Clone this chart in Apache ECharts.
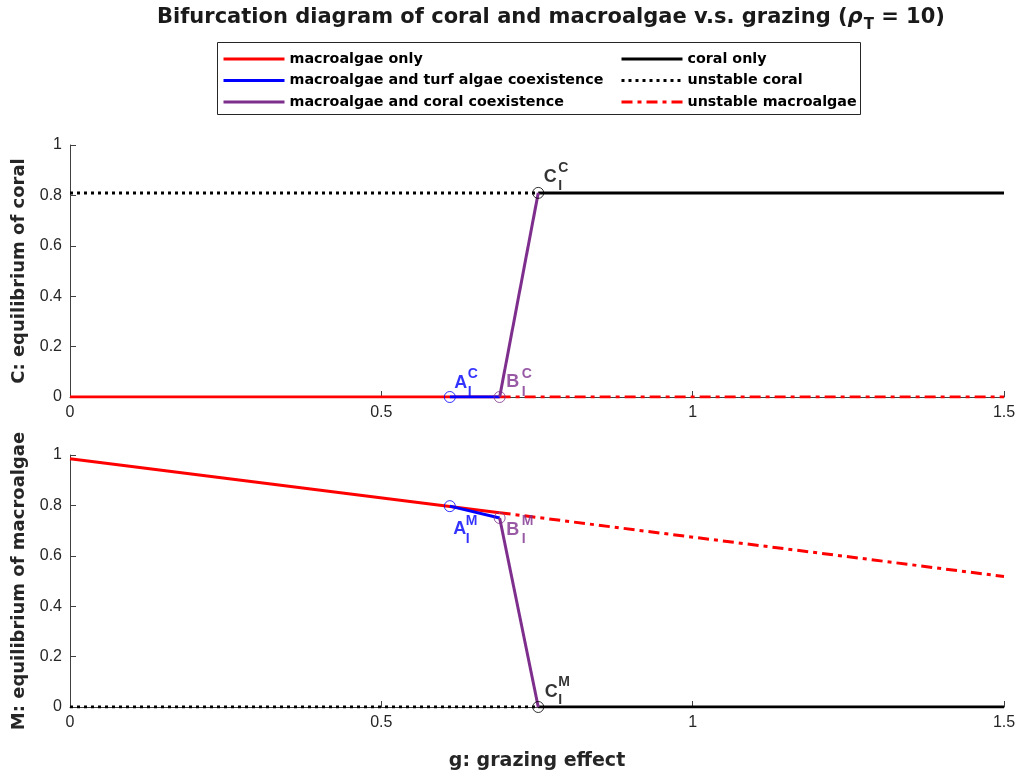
<!DOCTYPE html>
<html><head><meta charset="utf-8">
<script src="https://cdn.jsdelivr.net/npm/echarts@6/dist/echarts.min.js"></script>
<style>html,body{margin:0;padding:0;background:#fff}#c{width:1021px;height:780px}</style>
</head><body><div id="c"></div>
<script>
// ---- data ----
const gA = 0.61, gB = 0.69, gC = 0.752, gMax = 1.5;
const coralStar = 0.81;
const macroAt0 = 0.985, macroAtA = 0.797, macroAtB = 0.771, macroAtMax = 0.518, blueAtB = 0.75;
const xTicks = ['0', '0.5', '1', '1.5'];
const yTicks = ['0', '0.2', '0.4', '0.6', '0.8', '1'];

// top panel (coral C)
const topMacroOnly = [[0, 0], [gB, 0]];
const topTurf = [[gA, 0], [gB, 0]];
const topCoex = [[gB, 0], [gC, coralStar]];
const topCoralOnly = [[gC, coralStar], [gMax, coralStar]];
const topUnstableCoral = [[0, coralStar], [gC, coralStar]];
const topUnstableMacro = [[gB, 0], [gMax, 0]];
// bottom panel (macroalgae M)
const botMacroOnly = [[0, macroAt0], [gB, macroAtB]];
const botTurf = [[gA, macroAtA], [gB, blueAtB]];
const botCoex = [[gB, blueAtB], [gC, 0]];
const botCoralOnly = [[gC, 0], [gMax, 0]];
const botUnstableCoral = [[0, 0], [gC, 0]];
const botUnstableMacro = [[gB, macroAtB], [gMax, macroAtMax]];

const ptsTop = [[gA, 0], [gB, 0], [gC, coralStar]];
const ptsBot = [[gA, macroAtA], [gB, blueAtB], [gC, 0]];
const letters = ['A', 'B', 'C'];
const supTop = 'C', supBot = 'M';

// ---- styles ----
const RED = '#ff0000', BLUE = '#0000ff', PURPLE = '#7e2f8e', BLACK = '#000000';
const ptColors = [BLUE, PURPLE, BLACK];
const FONT = 'Liberation Sans, Arial, sans-serif';
const BFONT = 'DejaVu Sans, sans-serif';

const names = {
  mo: 'macroalgae only', tu: 'macroalgae and turf algae coexistence', co: 'macroalgae and coral coexistence',
  cr: 'coral only', uc: 'unstable coral', um: 'unstable macroalgae'
};
function line(name, data, idx, color, type, z) {
  return { name, type: 'line', data, xAxisIndex: idx, yAxisIndex: idx, symbol: 'none', z: z || 2,
    lineStyle: { color, width: 3, type: type || 'solid' }, itemStyle: { color }, animation: false };
}
const dotted = [3, 4];
const dashdot = [11, 5, 4, 5];

const series = [];
[[topMacroOnly, topTurf, topCoex, topCoralOnly, topUnstableCoral, topUnstableMacro, 0],
 [botMacroOnly, botTurf, botCoex, botCoralOnly, botUnstableCoral, botUnstableMacro, 1]].forEach(p => {
  const i = p[6];
  series.push(line(names.mo, p[0], i, RED, 'solid', 2));
  series.push(line(names.tu, p[1], i, BLUE, 'solid', 3));
  series.push(line(names.co, p[2], i, PURPLE, 'solid', 3));
  series.push(line(names.cr, p[3], i, BLACK, 'solid', 2));
  series.push(line(names.uc, p[4], i, BLACK, dotted, 2));
  series.push(line(names.um, p[5], i, RED, dashdot, 2));
});

// circles
[[ptsTop, 0], [ptsBot, 1]].forEach(([pts, i]) => {
  series.push({ type: 'scatter', xAxisIndex: i, yAxisIndex: i, z: 5, symbol: 'circle', symbolSize: 11, animation: false,
    data: pts.map((p, k) => ({ value: p, itemStyle: { color: 'rgba(0,0,0,0)', borderColor: ptColors[k], borderWidth: 1 } })),
    silent: true });
});

// annotation labels
const mainOffTop = [[11, -14], [13, -15], [12, -16]];
const scrOffTop = [[18, -14], [22, -14], [20, -16]];
const mainOffBot = [[10, 23], [13, 12], [13, -15]];
const scrOffBot = [[16, 24], [22, 12], [20, -16]];
function annot(pts, i, mainOff, scrOff, sup) {
  series.push({ type: 'scatter', xAxisIndex: i, yAxisIndex: i, z: 6, symbolSize: 0, silent: true, animation: false,
    data: pts.map((p, k) => ({ value: p, label: { show: true, formatter: letters[k], position: mainOff[k], align: 'center',
      verticalAlign: 'middle', color: ptColors[k], fontSize: 18, fontWeight: 'bold', fontFamily: FONT } })) });
  series.push({ type: 'scatter', xAxisIndex: i, yAxisIndex: i, z: 6, symbolSize: 0, silent: true, animation: false,
    data: pts.map((p, k) => ({ value: p, label: { show: true, formatter: sup + '\nI', position: scrOff[k], align: 'left',
      verticalAlign: 'middle', lineHeight: 18, color: ptColors[k], fontSize: 14, fontWeight: 'bold', fontFamily: FONT } })) });
}
annot(ptsTop, 0, mainOffTop, scrOffTop, supTop);
annot(ptsBot, 1, mainOffBot, scrOffBot, supBot);

function xAxis(i, name) {
  return { type: 'value', gridIndex: i, min: 0, max: 1.5, interval: 0.5,
    name: name || '', nameLocation: 'middle', nameGap: 45,
    nameTextStyle: { fontSize: 19, fontWeight: 'bold', color: '#262626', fontFamily: BFONT },
    axisLine: { show: true, onZero: false, lineStyle: { color: '#404040', width: 1 } },
    axisTick: { show: true, inside: true, length: 6, lineStyle: { color: '#404040' } },
    axisLabel: { fontSize: 16, color: '#262626', fontFamily: FONT, margin: 8,
      formatter: v => xTicks[Math.round(v / 0.5)] },
    splitLine: { show: false } };
}
function yAxis(i, name) {
  return { type: 'value', gridIndex: i, min: 0, max: 1, interval: 0.2,
    name, nameLocation: 'middle', nameGap: 42, nameRotate: 90,
    nameTextStyle: { fontSize: 18, fontWeight: 'bold', color: '#262626', fontFamily: BFONT },
    axisLine: { show: true, lineStyle: { color: '#404040', width: 1 } },
    axisTick: { show: true, inside: true, length: 6, lineStyle: { color: '#404040' } },
    axisLabel: { fontSize: 16, color: '#262626', fontFamily: FONT, margin: 8,
      formatter: v => yTicks[Math.round(v / 0.2)] },
    splitLine: { show: false } };
}

const legendCommon = { orient: 'vertical', itemWidth: 61, itemHeight: 14, itemGap: 7.5, padding: 0,
  itemStyle: { opacity: 0 }, lineStyle: { width: 3 },
  textStyle: { fontSize: 14.3, fontWeight: 'bold', color: '#000', fontFamily: BFONT }, selectedMode: false };

const option = {
  backgroundColor: '#fff',
  animation: false,
  title: {
    text: '{n|Bifurcation diagram of coral and macroalgae v.s. grazing (}{r|ρ}{s|T}{n| = 10)}',
    left: 152, top: -2,
    textStyle: { rich: {
      n: { fontSize: 21, fontWeight: 'bold', fontFamily: BFONT, color: '#1a1a1a', lineHeight: 30, verticalAlign: 'middle' },
      r: { fontSize: 21, fontStyle: 'italic', fontFamily: BFONT, color: '#1a1a1a', lineHeight: 30, verticalAlign: 'middle' },
      s: { fontSize: 15, fontWeight: 'bold', fontFamily: BFONT, color: '#1a1a1a', lineHeight: 30, verticalAlign: 'bottom', padding: [0, 0, 0, 1] }
    } }
  },
  graphic: [{ type: 'rect', shape: { x: 217.5, y: 42.5, width: 643, height: 72 },
    style: { fill: '#fff', stroke: '#262626', lineWidth: 1 }, z: -1, silent: true }],
  legend: [
    Object.assign({ left: 222, top: 52, data: [names.mo, names.tu, names.co] }, legendCommon),
    Object.assign({ left: 620, top: 52, data: [names.cr, names.uc, names.um] }, legendCommon)
  ],
  grid: [
    { left: 70, right: 17, top: 145, height: 252 },
    { left: 70, right: 17, top: 455, height: 252 }
  ],
  xAxis: [xAxis(0), xAxis(1, 'g: grazing effect')],
  yAxis: [yAxis(0, 'C: equilibrium of coral'), yAxis(1, 'M: equilibrium of macroalgae')],
  series
};
const chart = echarts.init(document.getElementById('c'), null, { renderer: 'canvas' });
chart.setOption(option);
</script></body></html>
